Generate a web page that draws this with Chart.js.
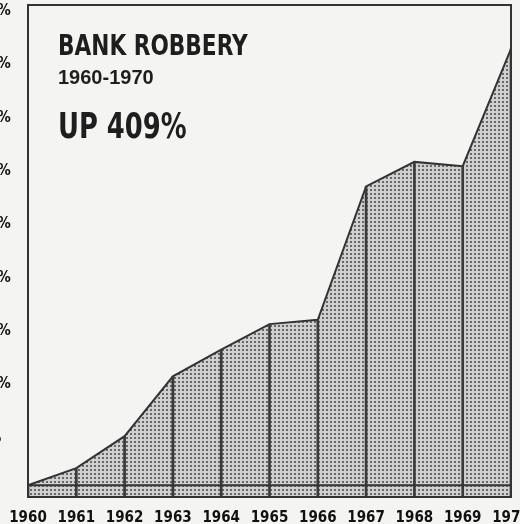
<!DOCTYPE html>
<html>
<head>
<meta charset="utf-8">
<script src="https://cdn.jsdelivr.net/npm/chart.js@4/dist/chart.umd.min.js"></script>
<style>
  html, body { margin: 0; padding: 0; background: #f4f4f2; }
  body { width: 520px; height: 524px; overflow: hidden; position: relative; }
  #cnvs_area { position: absolute; left: -31px; top: 0; }
  .note { position: absolute; left: 58px; color: #1e1e1e; font-weight: bold; white-space: nowrap; line-height: 1; transform-origin: 0 0; }
  #t1 { top: 32px; font-family: 'DejaVu Sans Condensed', sans-serif; font-size: 28px; transform: scaleX(0.86); }
  #t2 { top: 67px; font-family: 'Liberation Sans', Arial, sans-serif; font-size: 20px; }
  #t3 { top: 109px; font-family: 'DejaVu Sans Condensed', sans-serif; font-size: 35px; transform: scaleX(0.82); }
</style>
</head>
<body>
<canvas id="cnvs_area" width="562" height="527"></canvas>
<div class="note" id="t1">BANK ROBBERY</div>
<div class="note" id="t2">1960-1970</div>
<div class="note" id="t3">UP 409%</div>
<script>
// percent increase in bank robberies over 1960
const years = ['1960', '1961', '1962', '1963', '1964', '1965', '1966', '1967', '1968', '1969', '1970'];
const increase = [0, 16, 46, 102, 127, 151, 155, 280, 303, 299, 409];
const yTicksMax = 450;
const yTicksStep = 50;

const ink = '#333333';
const tickFont = { family: "'DejaVu Sans Condensed', sans-serif", size: 15, weight: 'bold' };

// halftone dot fill
function dotPattern() {
  const tile = document.createElement('canvas');
  tile.width = 4;
  tile.height = 4;
  const c = tile.getContext('2d');
  c.fillStyle = '#d0d0d0';
  c.fillRect(0, 0, 4, 4);
  c.fillStyle = '#686868';
  c.fillRect(1, 1, 2, 2);
  return c.createPattern(tile, 'repeat');
}

const frame = {
  id: 'frame',
  afterDatasetsDraw(chart) {
    const { ctx, chartArea: a, scales } = chart;
    const y0 = scales.y.getPixelForValue(0);
    ctx.save();
    ctx.strokeStyle = ink;
    ctx.lineWidth = 2;
    ctx.beginPath();
    ctx.moveTo(a.left, y0);
    ctx.lineTo(a.right, y0);
    ctx.stroke();
    ctx.strokeRect(a.left, a.top, a.right - a.left, a.bottom - a.top);
    ctx.restore();
  }
};

const ctx = document.getElementById('cnvs_area').getContext('2d');
new Chart(ctx, {
  type: 'line',
  data: {
    labels: years,
    datasets: [
      {
        type: 'bar',
        data: increase,
        base: -11,
        barThickness: 2,
        backgroundColor: '#3a3a3a',
        order: 0
      },
      {
        data: increase,
        borderColor: ink,
        borderWidth: 2,
        backgroundColor: dotPattern(),
        fill: 'start',
        tension: 0,
        pointRadius: 0,
        order: 1
      }
    ]
  },
  options: {
    responsive: false,
    animation: false,
    layout: { padding: { top: 5, right: 20, left: 0, bottom: 0 } },
    plugins: { legend: { display: false }, tooltip: { enabled: false } },
    scales: {
      x: {
        offset: false,
        grid: { display: false, offset: false, drawTicks: false },
        border: { display: false },
        ticks: { color: '#111111', font: tickFont, padding: 12, maxRotation: 0, autoSkip: false },
        afterFit(s) { s.height = 30; s.paddingLeft = 0; s.paddingRight = 0; }
      },
      y: {
        min: -11,
        max: yTicksMax,
        grid: { display: false, drawTicks: false },
        border: { display: false },
        ticks: {
          stepSize: yTicksStep,
          crossAlign: 'far',
          labelOffset: 6,
          color: '#111111',
          font: tickFont,
          callback: (v) => (v >= 0 && v % yTicksStep === 0 ? v + '%' : '')
        },
        afterFit(s) { s.width = 59; s.paddingTop = 0; s.paddingBottom = 0; }
      }
    }
  },
  plugins: [frame]
});
</script>
</body>
</html>
